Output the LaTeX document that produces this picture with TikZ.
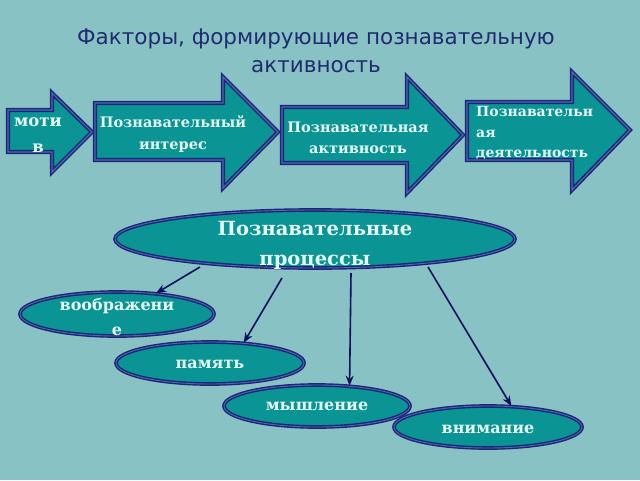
\documentclass[tikz,border=0pt]{standalone}
\usepackage{fontspec}
\setmainfont{DejaVu Serif}
\newfontfamily\titlefont{DejaVu Sans}
\usetikzlibrary{shapes.geometric,arrows.meta}
\definecolor{bgc}{HTML}{88C2C4}
\definecolor{fillc}{HTML}{0A9494}
\definecolor{navyc}{HTML}{1C2672}
\definecolor{innerc}{HTML}{4A68B8}
\definecolor{txtc}{HTML}{E6FAFA}
\definecolor{titlec}{HTML}{1F2C6E}
\definecolor{linec}{HTML}{0A1060}
\tikzset{
  arrshape/.style={fill=fillc, draw=navyc, line width=1.5pt, double=innerc, double distance=1.1pt, line join=miter},
  ellbox/.style={ellipse, fill=fillc, draw=navyc, line width=1.4pt, double=innerc, double distance=0.9pt, inner sep=0pt},
  lbl/.style={text=txtc, font=\bfseries, align=center, inner sep=0pt},
  conn/.style={draw=linec, line width=1.6pt, -{Stealth[length=10pt,width=8pt]}},
}
\begin{document}
\begin{tikzpicture}[x=1pt,y=-1pt]
\fill[bgc] (0,0) rectangle (640,480);
\useasboundingbox (0,0) rectangle (640,480);
% title
\node[titlec, font=\titlefont\fontsize{21.5}{28}\selectfont, align=center] (title) at (316,51) {Факторы, формирующие познавательную\\активность};
% arrows
\draw[arrshape] (8,110) -- (52,110) -- (52,93) -- (92,132) -- (52,172) -- (52,152) -- (8,152) -- cycle;
\node[lbl, font=\bfseries\fontsize{16.5}{26}\selectfont] (motiv) at (38,135) {моти\\в};
\draw[arrshape] (95,103) -- (223,103) -- (223,77) -- (278,132) -- (223,188) -- (223,160) -- (95,160) -- cycle;
\node[lbl, font=\bfseries\fontsize{14.5}{22}\selectfont] (interes) at (173,134) {Познавательный\\интерес};
\draw[arrshape] (282,107) -- (407,107) -- (407,77) -- (463,135) -- (407,193) -- (407,163) -- (282,163) -- cycle;
\node[lbl, font=\bfseries\fontsize{14.5}{21}\selectfont] (aktiv) at (358,138) {Познавательная\\активность};
\draw[arrshape] (467,102) -- (572,102) -- (572,72) -- (630,130) -- (572,190) -- (572,160) -- (467,160) -- cycle;
\node[lbl, font=\bfseries\fontsize{14}{20.5}\selectfont, align=left, anchor=west] (deyat) at (476,133) {Познавательн\\ая\\деятельность};
% big ellipse
\node[ellbox, minimum width=400pt, minimum height=58pt] (proc) at (315,239) {};
\node[lbl, font=\bfseries\fontsize{19.5}{30}\selectfont] (proctxt) at (315,245) {Познавательные\\процессы};
% small ellipses
\node[ellbox, minimum width=194pt, minimum height=44pt] (vo) at (117,314) {};
\node[lbl, font=\bfseries\fontsize{16}{25}\selectfont] (votxt) at (117,317) {воображени\\е};
\node[ellbox, minimum width=188pt, minimum height=42pt] (pam) at (210,363) {};
\node[lbl, font=\bfseries\fontsize{16}{20}\selectfont] (pamtxt) at (210,364) {память};
\node[ellbox, minimum width=186pt, minimum height=42pt] (my) at (317,406) {};
\node[lbl, font=\bfseries\fontsize{16}{20}\selectfont] (mytxt) at (317,406) {мышление};
\node[ellbox, minimum width=188pt, minimum height=42pt] (vn) at (488,427) {};
\node[lbl, font=\bfseries\fontsize{16}{20}\selectfont] (vntxt) at (488,429) {внимание};
% connectors
\coordinate (s1) at (200,267);
\coordinate (s2) at (282,278);
\coordinate (s3) at (351,273);
\coordinate (s4) at (428,267);
\draw[conn] (s1) -- (vo.28);
\draw[conn] (s2) -- (pam.31);
\draw[conn] (s3) -- (my.32);
\draw[conn] (s4) -- (vn.42);
\end{tikzpicture}
\end{document}
